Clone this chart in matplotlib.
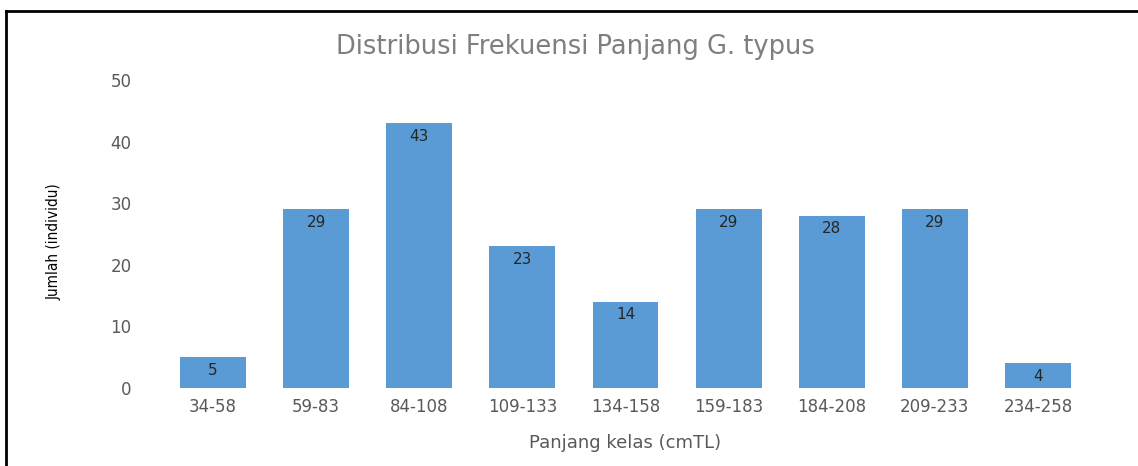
import matplotlib
matplotlib.use('Agg')
import matplotlib.pyplot as plt
from matplotlib.lines import Line2D

# Data
kelas = ['34-58', '59-83', '84-108', '109-133', '134-158',
         '159-183', '184-208', '209-233', '234-258']
jumlah = [5, 29, 43, 23, 14, 29, 28, 29, 4]

bar_color = '#5B9BD5'
text_gray = '#595959'

fig = plt.figure(figsize=(11.38, 4.66), dpi=100)
ax = fig.add_axes([0.1419, 0.1674, 0.8155, 0.6609])

x = range(len(kelas))
bars = ax.bar(x, jumlah, width=0.64, color=bar_color, zorder=2)

for b, v in zip(bars, jumlah):
    ax.annotate(str(v), (b.get_x() + b.get_width() / 2, v),
                xytext=(0, -9.5), textcoords='offset points',
                ha='center', va='center', fontsize=11, color='#262626')

ax.set_xlim(-0.5, len(kelas) - 0.5)
ax.set_ylim(0, 50)
ax.set_yticks([0, 10, 20, 30, 40, 50])
ax.set_xticks(list(x))
ax.set_xticklabels(kelas)

for s in ax.spines.values():
    s.set_visible(False)
ax.tick_params(axis='both', length=0, labelsize=12, labelcolor=text_gray)
ax.tick_params(axis='y', pad=21.5)
ax.tick_params(axis='x', pad=7)

ax.set_xlabel('Panjang kelas (cmTL)', fontsize=13, color=text_gray, labelpad=13)
fig.text(0.048, 0.482, 'Jumlah (individu)', rotation=90, ha='center', va='center',
         fontsize=11, color='black', family=['Liberation Sans Narrow', 'DejaVu Sans'],
         fontstretch='condensed')

fig.text(0.506, 0.90, 'Distribusi Frekuensi Panjang G. typus', ha='center', va='center',
         fontsize=18.5, color='#7F7F7F')

# outer frame (top and left visible)
fig.add_artist(Line2D([0.0053, 0.0053], [0, 0.976], transform=fig.transFigure,
                      color='black', lw=2))
fig.add_artist(Line2D([0.0053, 1.0], [0.976, 0.976], transform=fig.transFigure,
                      color='black', lw=2))

fig.savefig('out.png', dpi=100)
